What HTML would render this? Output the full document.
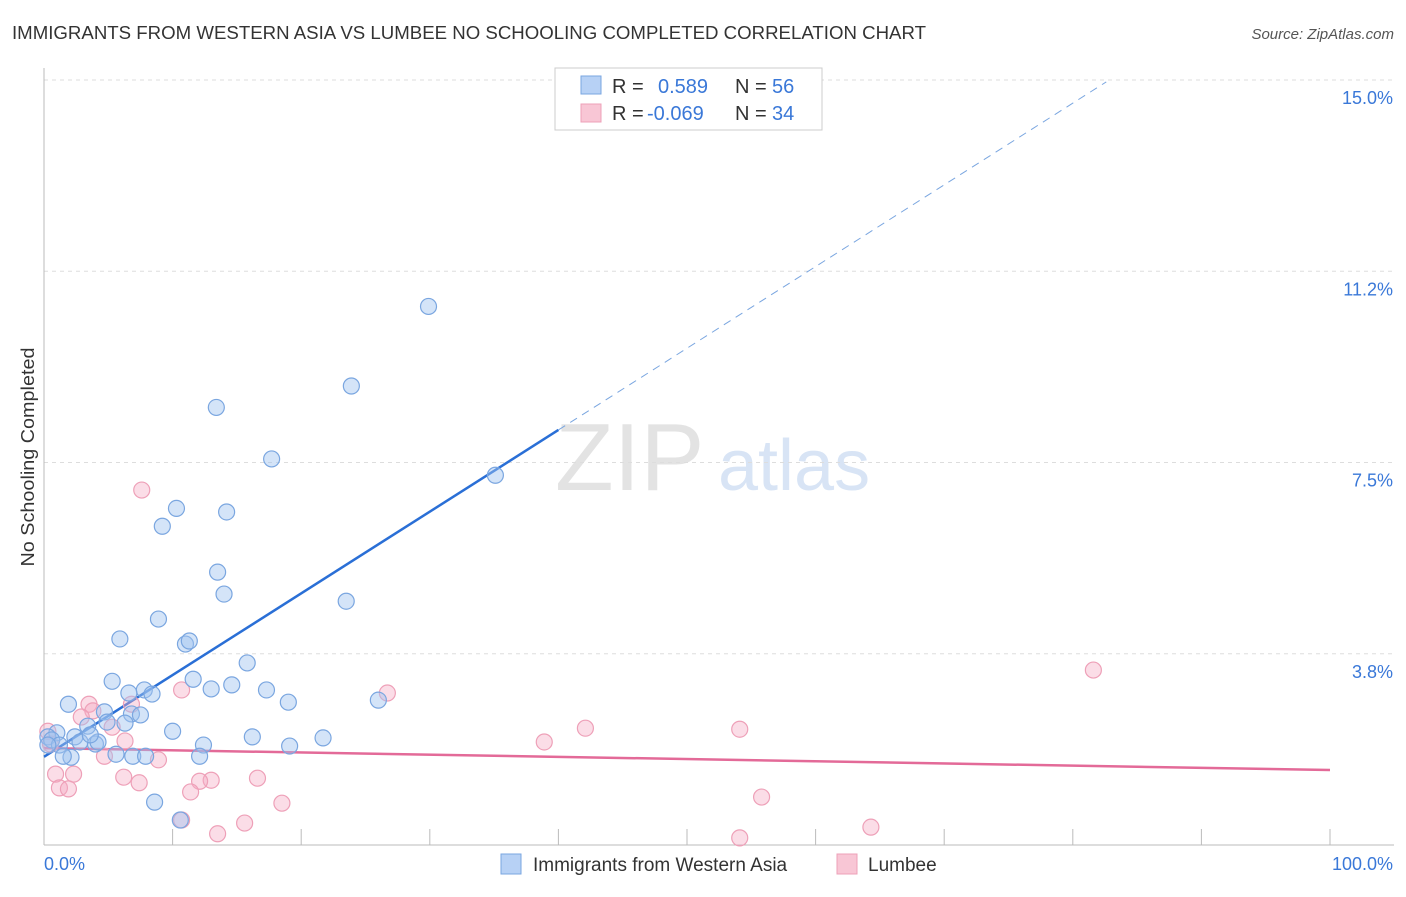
<!DOCTYPE html>
<html><head><meta charset="utf-8"><style>
body{margin:0;background:#fff;font-family:"Liberation Sans",sans-serif;}
svg text{font-family:"Liberation Sans",sans-serif;}
</style></head><body>
<svg id="chart" width="1406" height="892" xmlns="http://www.w3.org/2000/svg">
<text x="12" y="39" font-size="18" fill="#333" textLength="914" lengthAdjust="spacingAndGlyphs">IMMIGRANTS FROM WESTERN ASIA VS LUMBEE NO SCHOOLING COMPLETED CORRELATION CHART</text>
<text x="1394" y="39" font-size="15" fill="#555" text-anchor="end" font-style="italic">Source: ZipAtlas.com</text>
<text transform="translate(34,457) rotate(-90)" font-size="18" fill="#333" text-anchor="middle" textLength="219" lengthAdjust="spacingAndGlyphs">No Schooling Completed</text>
<g>
<text x="555" y="490" font-size="96" fill="#d8d8d8" font-family="Liberation Serif" opacity="0.7">ZIP</text>
<text x="718" y="490" font-size="72" fill="#c8daf2" opacity="0.7">atlas</text>
</g>
<g id="grid"></g><g id="axes"></g><g id="trend"></g><g id="points"></g>
<g>
<rect x="555" y="68" width="267" height="62" fill="#fff" stroke="#ccc"/>
<rect x="581" y="76" width="20" height="18" fill="#b7d1f5" stroke="#7aa6e0"/>
<rect x="581" y="104" width="20" height="18" fill="#f8c6d5" stroke="#eea0b8"/>
<text x="612" y="93" font-size="20" fill="#333">R = </text><text x="658" y="93" font-size="20" fill="#3a78d8">0.589</text>
<text x="735" y="93" font-size="20" fill="#333">N = </text><text x="772" y="93" font-size="20" fill="#3a78d8">56</text>
<text x="612" y="120" font-size="20" fill="#333">R = </text><text x="647" y="120" font-size="20" fill="#3a78d8">-0.069</text>
<text x="735" y="120" font-size="20" fill="#333">N = </text><text x="772" y="120" font-size="20" fill="#3a78d8">34</text>
</g>
<g>
<rect x="501" y="854" width="20" height="20" fill="#b7d1f5" stroke="#7aa6e0"/>
<text x="533" y="871" font-size="19" fill="#333">Immigrants from Western Asia</text>
<rect x="837" y="854" width="20" height="20" fill="#f8c6d5" stroke="#eea0b8"/>
<text x="868" y="871" font-size="19" fill="#333">Lumbee</text>
</g>
</svg>
<script>
const yTicks=[3.75,7.5,11.25,15];
const yTickLabels=["3.8%","7.5%","11.2%","15.0%"];
const xTicks=[0,10,20,30,40,50,60,70,80,90,100];
const blueX=[29.9,23.9,13.4,17.7,35.1,10.3,14.2,9.2,13.5,14.0,23.5,8.9,5.9,11.0,11.3,15.8,5.3,11.6,14.6,7.8,6.6,8.4,13.0,17.3,1.9,19.0,26.0,4.7,6.8,7.5,6.3,3.4,10.0,1.0,0.3,0.6,1.2,2.4,2.8,4.0,4.2,16.2,21.7,12.4,19.1,5.6,6.9,7.9,12.1,2.1,1.5,8.6,10.6,3.6,4.9,0.3];
const blueY=[10.56,9.0,8.58,7.57,7.25,6.6,6.53,6.25,5.35,4.92,4.78,4.43,4.04,3.94,4.0,3.57,3.21,3.25,3.14,3.04,2.98,2.96,3.06,3.04,2.76,2.8,2.84,2.61,2.57,2.55,2.39,2.33,2.23,2.2,2.12,2.06,1.96,2.12,2.02,1.98,2.02,2.12,2.1,1.96,1.94,1.78,1.74,1.74,1.74,1.72,1.74,0.84,0.49,2.16,2.41,1.96];
const pinkX=[7.6,81.6,10.7,26.7,3.5,6.8,3.8,2.9,42.1,54.1,0.3,5.3,6.3,38.9,4.7,8.9,0.9,2.3,6.2,16.6,13.0,12.1,7.4,1.2,1.9,11.4,18.5,55.8,10.7,15.6,64.3,13.5,54.1,0.5];
const pinkY=[6.96,3.43,3.04,2.98,2.76,2.76,2.63,2.51,2.29,2.27,2.23,2.31,2.04,2.02,1.74,1.67,1.39,1.39,1.33,1.31,1.27,1.25,1.22,1.12,1.1,1.04,0.82,0.94,0.49,0.43,0.35,0.22,0.14,1.98];
const blueTrend=[1.73,0.1602]; // intercept, slope
const blueSolidEnd=40, blueDashEnd=82.6;
const pinkTrend=[1.90,-0.0043];
const NS="http://www.w3.org/2000/svg";
const X0=44,X1=1330,Y0=845,YTOP=80;
const xs=v=>X0+(X1-X0)*v/100;
const ys=v=>Y0-(Y0-YTOP)*v/15;
function mk(t,a,p){const e=document.createElementNS(NS,t);for(const k in a)e.setAttribute(k,a[k]);document.getElementById(p).appendChild(e);return e;}
yTicks.forEach((t,i)=>{
  const l=mk('line',{x1:X0,x2:1394,y1:ys(t),y2:ys(t),stroke:'#ddd','stroke-dasharray':'4,4'},'grid');
  
  
  const tx=mk('text',{x:1393,y:ys(t)+24,'font-size':18,fill:'#3a78d8','text-anchor':'end'},'grid');
  tx.textContent=yTickLabels[i];
  
  
});
const ax=mk('line',{x1:X0,x2:1394,y1:Y0,y2:Y0,stroke:'#bbb'},'axes');


const ay=mk('line',{x1:X0,x2:X0,y1:68,y2:Y0,stroke:'#bbb'},'axes');


xTicks.forEach(t=>{
  const l=mk('line',{x1:xs(t),x2:xs(t),y1:Y0,y2:Y0-16,stroke:'#bbb'},'axes');
  
  
});
const xl0=mk('text',{x:44,y:870,'font-size':18,fill:'#3a78d8'},'axes');xl0.textContent='0.0%';


const xl1=mk('text',{x:1393,y:870,'font-size':18,fill:'#3a78d8','text-anchor':'end'},'axes');xl1.textContent='100.0%';


const bt=x=>blueTrend[0]+blueTrend[1]*x, pt=x=>pinkTrend[0]+pinkTrend[1]*x;
const b1=mk('line',{x1:xs(0),y1:ys(bt(0)),x2:xs(blueSolidEnd),y2:ys(bt(blueSolidEnd)),stroke:'#2a6fd6','stroke-width':2.5},'trend');


const b2=mk('line',{x1:xs(blueSolidEnd),y1:ys(bt(blueSolidEnd)),x2:xs(blueDashEnd),y2:ys(bt(blueDashEnd)),stroke:'#7aa6e0','stroke-width':1,'stroke-dasharray':'8,6'},'trend');


const p1=mk('line',{x1:xs(0),y1:ys(pt(0)),x2:xs(100),y2:ys(pt(100)),stroke:'#e36a98','stroke-width':2.5},'trend');


pinkX.forEach((x,i)=>{
  const c=mk('circle',{cx:xs(x),cy:ys(pinkY[i]),r:8,fill:'rgba(244,170,195,0.4)',stroke:'#eea0b8','stroke-width':1.2},'points');
  
  
});
blueX.forEach((x,i)=>{
  const c=mk('circle',{cx:xs(x),cy:ys(blueY[i]),r:8,fill:'rgba(160,196,240,0.45)',stroke:'#7aa6e0','stroke-width':1.2},'points');
  
  
});
</script>
</body></html>
